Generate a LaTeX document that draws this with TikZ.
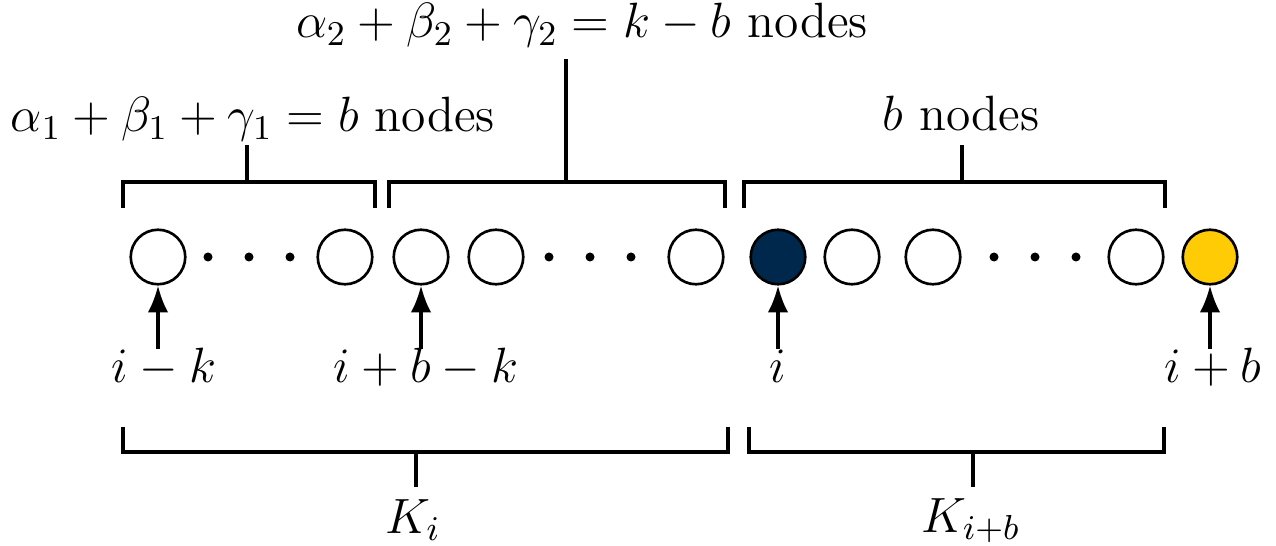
\RequirePackage{fix-cm}
\documentclass[tikz,border=0pt]{standalone}
\usepackage{amsmath, amssymb}
\usepackage{xcolor}
\usepackage{tikz}
\usetikzlibrary{calc, arrows.meta}

\definecolor{umblue}{HTML}{00274C}
\definecolor{maize}{HTML}{FFCB05}

\begin{document}
\begin{tikzpicture}[x=0.01cm, y=-0.01cm,
    every node/.style={font=\fontsize{14.1}{17}\selectfont},
    vtx/.style={circle, draw, line width=0.75pt, fill=white, minimum size=5.45mm, inner sep=0pt},
    brack/.style={line width=0.9pt},
    ptr/.style={line width=0.9pt, -{Latex[length=7.6pt, width=5.8pt]}},
    idx/.style={anchor=base, text height=0.7em, inner sep=0.25em},
    lbl/.style={anchor=base, inner sep=0pt}]
    \useasboundingbox (0,0) rectangle (1276,546);

    % nodes of the sequence
    \node[vtx] (c1) at (158,257) {};
    \node[vtx] (c2) at (345,257) {};
    \node[vtx] (c3) at (421,257) {};
    \node[vtx] (c4) at (496,257) {};
    \node[vtx] (c5) at (696,257) {};
    \node[vtx, fill=umblue] (c6) at (778,257) {};
    \node[vtx] (c7) at (852,257) {};
    \node[vtx] (c8) at (933,257) {};
    \node[vtx] (c9) at (1136,257) {};
    \node[vtx, fill=maize] (c10) at (1210,257) {};

    \foreach \x in {208,249,290,549,590,631,994,1035,1076}
        \fill (\x,257) circle[radius=0.45mm];

    % indices below
    \node[idx] (ik) at (164,383) {$i-k$};
    \node[idx] (ibk) at (426,383) {$i+b-k$};
    \node[idx] (ii) at (778,383) {$i$};
    \node[idx] (ib) at (1213,383) {$i+b$};

    \draw[ptr] (c1.south |- ik.north) -- (c1.south);
    \draw[ptr] (c3.south |- ibk.north) -- (c3.south);
    \draw[ptr] (c6.south |- ii.north) -- (c6.south);
    \draw[ptr] (c10.south |- ib.north) -- (c10.south);

    % brackets on top
    \node[lbl] (sum1) at (253,132) {$\alpha_1+\beta_1+\gamma_1=b$ nodes};
    \node[lbl] (sum2) at (582,38) {$\alpha_2+\beta_2+\gamma_2=k-b$ nodes};
    \node[lbl] (bn) at (961,131) {$b$ nodes};

    \coordinate (s1) at (247,182);
    \coordinate (s2) at (566,182);
    \coordinate (s3) at (962,182);
    \coordinate (t1) at (247,145);
    \coordinate (t2) at (566,59);
    \coordinate (t3) at (962,145);

    \draw[brack] (123,208) |- (375,182) -- (375,208);
    \draw[brack] (389,208) |- (725,182) -- (725,208);
    \draw[brack] (744,208) |- (1165,182) -- (1165,208);
    \draw[brack] (s1) -- (t1);
    \draw[brack] (s2) -- (t2);
    \draw[brack] (s3) -- (t3);

    % brackets below
    \node[lbl] (ki) at (413,533) {$K_i$};
    \node[lbl] (kib) at (971,532) {$K_{i+b}$};

    \coordinate (u1) at (416,452);
    \coordinate (u2) at (973,452);

    \draw[brack] (123,427) |- (728,452) -- (728,427);
    \draw[brack] (749,427) |- (1164,452) -- (1164,427);
    \draw[brack] (u1) -- ++(0,35);
    \draw[brack] (u2) -- ++(0,35);
\end{tikzpicture}
\end{document}
